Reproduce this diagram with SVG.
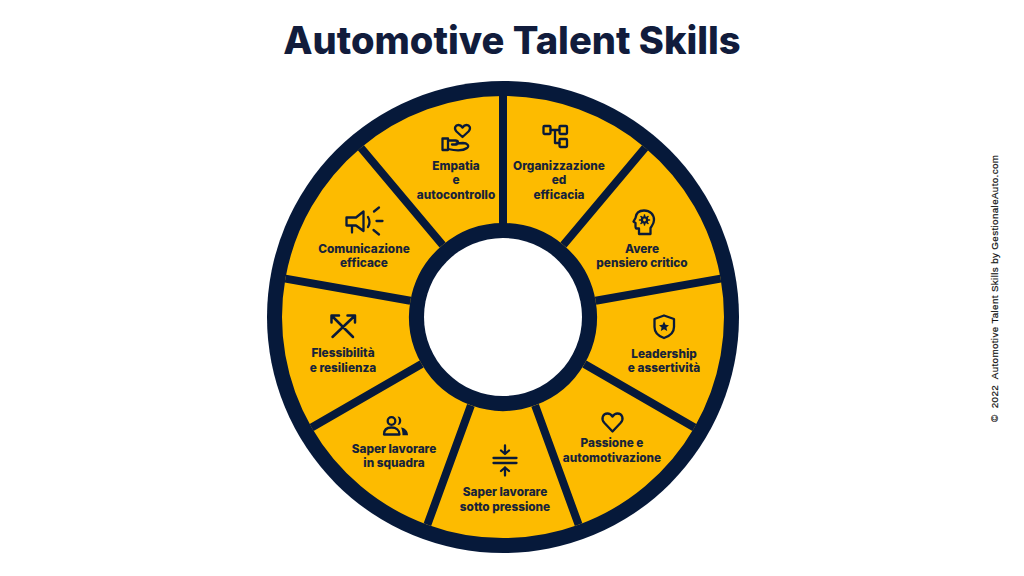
<svg xmlns="http://www.w3.org/2000/svg" width="1024" height="576" viewBox="0 0 1024 576">
<style>
.w{fill:#fdbb00}
.t{font-family:Inter,"Liberation Sans",sans-serif;font-weight:800;font-size:11.8px;fill:#17233a;text-anchor:middle}
.i{fill:none;stroke:#0a1a38;stroke-width:2.300;stroke-linecap:round;stroke-linejoin:round}
.d{stroke:#06193a;stroke-width:8}
.f{fill:#0a1a38}
</style>
<rect width="1024" height="576" fill="#fff"/>
<text id="title" x="512" y="54" text-anchor="middle" font-family="Inter,'Liberation Sans',sans-serif" font-weight="800" font-size="38.100" fill="#111c3c">Automotive Talent Skills</text>
<circle id="ring" cx="503" cy="317" r="236" fill="#06193a"/>
<g id="n1"><path class="w" d="M503 96A221 221 0 0 1 645.100 147.700L563.400 245A94 94 0 0 0 503 223Z"/>
<g class="i"><rect x="543.500" y="126" width="7" height="8" rx="1"/><rect x="559.500" y="126" width="7.500" height="8" rx="1"/><rect x="559.500" y="139" width="7.500" height="8" rx="1"/><path d="M550.500 130H559.500M555 130V143H559.500"/></g>
<text class="t" x="559" y="170">Organizzazione</text><text class="t" x="559" y="184">ed</text><text class="t" x="559" y="199">efficacia</text></g>
<g id="n2"><path class="w" d="M645.100 147.700A221 221 0 0 1 720.600 278.600L595.600 300.700A94 94 0 0 0 563.400 245Z"/>
<g class="i"><path d="M639 234V228.500H636.500Q635.500 228.500 635.500 226V223L633.500 221.500L635.500 218C636 213 639.500 210.500 644 210.500C650 210.500 654 214.500 654 220C654 224 651.500 226 650.500 228V234Z"/><circle cx="644.500" cy="220" r="2.600"/><path d="M644.500 215V216.500M644.500 223.500V225M639.500 220H641M648 220H649.500M641 216.500L642 217.500M648 216.500L647 217.500M641 223.500L642 222.500M648 223.500L647 222.500" stroke-width="1.600"/></g>
<text class="t" x="642" y="253">Avere</text><text class="t" x="642" y="267">pensiero critico</text></g>
<g id="n3"><path class="w" d="M720.600 278.600A221 221 0 0 1 694.400 427.500L584.400 364A94 94 0 0 0 595.600 300.700Z"/>
<path class="i" d="M664 315.500L674 319V327C674 332 670 336 664 338C658 336 654.500 332 654.500 327V319Z"/>
<path class="f" d="M664 321.500L665.500 324.800L669 325.200L666.400 327.500L667.200 331L664 329.200L660.800 331L661.600 327.500L659 325.200L662.500 324.800Z"/>
<text class="t" x="664" y="358">Leadership</text><text class="t" x="664" y="372">e assertività</text></g>
<g id="n4"><path class="w" d="M694.400 427.500A221 221 0 0 1 578.600 524.700L535.100 405.300A94 94 0 0 0 584.400 364Z"/>
<path class="i" d="M612.500 431.500L604.500 423C600.500 418.500 603 413.500 607.500 413.500C610 413.500 611.500 415 612.500 416.500C613.500 415 615 413.500 617.500 413.500C622 413.500 624.500 418.500 620.500 423Z"/>
<text class="t" x="612" y="447">Passione e</text><text class="t" x="612" y="462">automotivazione</text></g>
<g id="n5"><path class="w" d="M578.600 524.700A221 221 0 0 1 427.400 524.700L470.900 405.300A94 94 0 0 0 535.100 405.300Z"/>
<g class="i"><path d="M493.500 458H516.500M493.500 463H516.500M505 445.500V453.500M501 450.500L505 454L509 450.500M505 467.500V475.500M501 471L505 467.500L509 471"/></g>
<text class="t" x="505" y="496">Saper lavorare</text><text class="t" x="505" y="511">sotto pressione</text></g>
<g id="n6"><path class="w" d="M427.400 524.700A221 221 0 0 1 311.600 427.500L421.600 364A94 94 0 0 0 470.900 405.300Z"/>
<g class="i"><circle cx="391.500" cy="421" r="3.800"/><path d="M384 434.500C384 430 387 427.500 391.500 427.500C396 427.500 399.500 430 399.500 434.500Z"/></g>
<path class="f" d="M397.500 416.500C402.500 416.500 402.500 425 397.500 425C399.500 422.500 399.500 419 397.500 416.500ZM401 427.500C405 428 408 431 408 435.300H402.500C402.500 432 402 429.500 401 427.500Z"/>
<text class="t" x="394" y="453">Saper lavorare</text><text class="t" x="394" y="467">in squadra</text></g>
<g id="n7"><path class="w" d="M311.600 427.500A221 221 0 0 1 285.400 278.600L410.400 300.700A94 94 0 0 0 421.600 364Z"/>
<g class="i"><path d="M332 316L353 337M354.500 316L332.500 337M331.500 322.500V315.500H339M347.500 315.500H355V322.500" stroke-width="2.500"/></g>
<text class="t" x="343" y="357">Flessibilità</text><text class="t" x="343" y="372">e resilienza</text></g>
<g id="n8"><path class="w" d="M285.400 278.600A221 221 0 0 1 360.900 147.700L442.600 245A94 94 0 0 0 410.400 300.700Z"/>
<g class="i" stroke-width="2.500"><path d="M346.500 217.500H356L363.500 211.500V231L356 225.500H346.500ZM352 226V232.500M368 217C369.800 220 369.800 224 368 227"/><path d="M374 211.500L379 207.500M376.500 221H382.500M373.500 230L379 234.500"/></g>
<text class="t" x="364" y="253">Comunicazione</text><text class="t" x="364" y="267">efficace</text></g>
<g id="n9"><path class="w" d="M360.900 147.700A221 221 0 0 1 503 96V223A94 94 0 0 0 442.600 245Z"/>
<g class="i"><path d="M462.500 137L456.500 131.500C453.500 128 455.500 125 458.500 125C460.500 125 461.500 126 462.500 127.500C463.500 126 464.500 125 466.500 125C469.500 125 471.500 128 468.500 131.500Z"/><path d="M442.500 138.500H448V150H442.500ZM448 140.500H455.500C458.500 140.500 459 144 456 144.500H452M456.500 143.500L463 143C467 143 470 146 467 148C463 151 457 151 448 149"/></g>
<text class="t" x="456" y="170">Empatia</text><text class="t" x="456" y="184">e</text><text class="t" x="456" y="199">autocontrollo</text></g>
<g id="connectors">
<path class="d" d="M503 90V228M645.100 147.700L563.400 245M720.600 278.600L595.600 300.700M694.400 427.500L584.400 364M578.600 524.700L535.100 405.300M427.400 524.700L470.900 405.300M311.600 427.500L421.600 364M285.400 278.600L410.400 300.700M360.900 147.700L442.600 245"/>
</g>
<circle id="hole" cx="503" cy="317" r="79" fill="#fff"/>
<text id="credit" transform="translate(998 422) rotate(-90)" font-family="'Liberation Sans',Arial,sans-serif" font-size="9.800" fill="#111" stroke="#111" stroke-width=".2" xml:space="preserve" textLength="267">©  2022  Automotive Talent Skills by GestionaleAuto.com</text>
</svg>
